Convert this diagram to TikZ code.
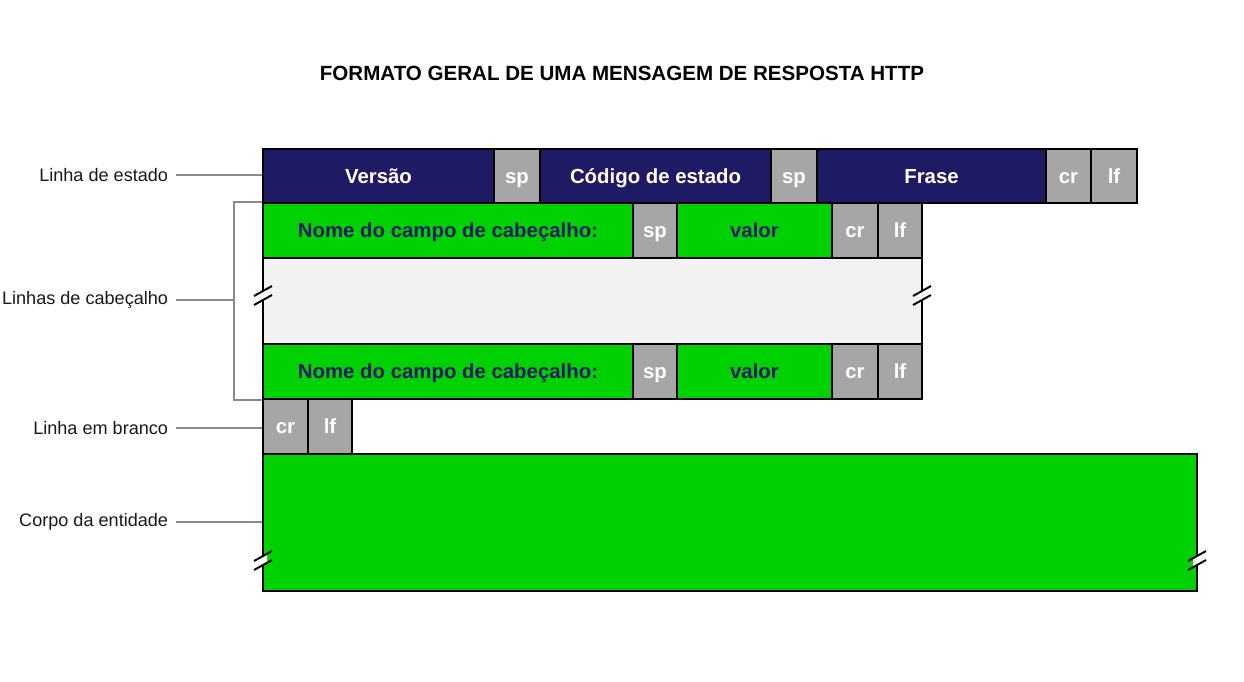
\documentclass[tikz,border=0pt]{standalone}
\usepackage{fontspec}
\setmainfont{Liberation Sans}
\usepackage{tikz}
\definecolor{navy}{HTML}{1E1A64}
\definecolor{verde}{HTML}{00D100}
\definecolor{cinza}{HTML}{A6A6A6}
\definecolor{claro}{HTML}{F2F2F2}
\definecolor{linha}{HTML}{8A8A8A}

\begin{document}
\begin{tikzpicture}[x=0.02cm, y=-0.02cm,
		caixa/.style={draw, line width=1pt, inner sep=0pt, minimum height=1.09cm, text height=8.3pt, text depth=0pt, font=\fontsize{11.6}{14}\selectfont\bfseries},
		estado/.style={caixa, fill=navy, text=white},
		campo/.style={caixa, fill=verde, text=navy},
		sep/.style={caixa, fill=cinza, text=white},
		rotulo/.style={anchor=east, inner sep=0pt, outer xsep=4.5pt, font=\fontsize{10.3}{12}\selectfont, text=black!90},
		ligacao/.style={draw=linha, line width=1.2pt}]
				\useasboundingbox (0,0) rectangle (1244,681);

				\node[font=\fontsize{11.7}{14}\selectfont\bfseries] (titulo) at (622,73) {FORMATO GERAL DE UMA MENSAGEM DE RESPOSTA HTTP};

				% linha de estado
				\node[estado, minimum width=4.62cm] (vers) at (378.5,176) {Versão};
				\node[sep, minimum width=0.92cm] (sp1) at (517,176) {sp};
				\node[estado, minimum width=4.62cm] (cod) at (655.5,176) {Código de estado};
				\node[sep, minimum width=0.92cm] (sp2) at (794,176) {sp};
				\node[estado, minimum width=4.58cm] (frase) at (931.5,176) {Frase};
				\node[sep, minimum width=0.90cm] (cr1) at (1068.5,176) {cr};
				\node[sep, minimum width=0.92cm] (lf1) at (1114,176) {lf};

				% linhas de cabeçalho
				\node[campo, minimum width=7.40cm] (nome1) at (448,230.5) {Nome do campo de cabeçalho:};
				\node[sep, minimum width=0.88cm] (spA) at (655,230.5) {sp};
				\node[campo, minimum width=3.10cm] (val1) at (754.5,230.5) {valor};
				\node[sep, minimum width=0.92cm] (crA) at (855,230.5) {cr};
				\node[sep, minimum width=0.88cm] (lfA) at (900,230.5) {lf};

				\node[caixa, fill=claro, minimum width=13.18cm, minimum height=1.72cm] (vazio) at (592.5,301) {};

				\node[campo, minimum width=7.40cm] (nome2) at (448,371.5) {Nome do campo de cabeçalho:};
				\node[sep, minimum width=0.88cm] (spB) at (655,371.5) {sp};
				\node[campo, minimum width=3.10cm] (val2) at (754.5,371.5) {valor};
				\node[sep, minimum width=0.92cm] (crB) at (855,371.5) {cr};
				\node[sep, minimum width=0.88cm] (lfB) at (900,371.5) {lf};

				% linha em branco e corpo
				\node[sep, minimum width=0.90cm] (cr3) at (285.5,426.5) {cr};
				\node[sep, minimum width=0.88cm] (lf3) at (330,426.5) {lf};
				\node[caixa, fill=verde, minimum width=18.68cm, minimum height=2.74cm] (corpo) at (730,522.5) {};

				% quebras
				\foreach \bx/\by in {263/296, 922/296, 263/561, 1197/561} {
					\fill[white] (\bx-4,\by-2.78) -- (\bx+4,\by-7.22) -- (\bx+4,\by+1.78) -- (\bx-4,\by+6.22) -- cycle;
					\draw[line width=1.1pt] (\bx-9,\by) -- (\bx+9,\by-10);
					\draw[line width=1.1pt] (\bx-9,\by+9) -- (\bx+9,\by-1);
				}

				% rótulos
				\node[rotulo] (lEst) at (176,175) {Linha de estado};
				\node[rotulo] (lCab) at (176,300) {Linhas de cabeçalho};
				\node[rotulo] (lBra) at (176,428) {Linha em branco};
				\node[rotulo] (lCor) at (176,522) {Corpo da entidade};

				\coordinate (chave) at (234,300);
				\draw[ligacao] (lEst.east) -- (lEst.east -| vers.west);
				\draw[ligacao] (lCab.east) -- (chave);
				\draw[ligacao] (nome1.north west) -| (chave) |- (nome2.south west);
				\draw[ligacao] (lBra.east) -- (lBra.east -| cr3.west);
				\draw[ligacao] (lCor.east) -- (lCor.east -| corpo.west);

			\end{tikzpicture}
\end{document}
